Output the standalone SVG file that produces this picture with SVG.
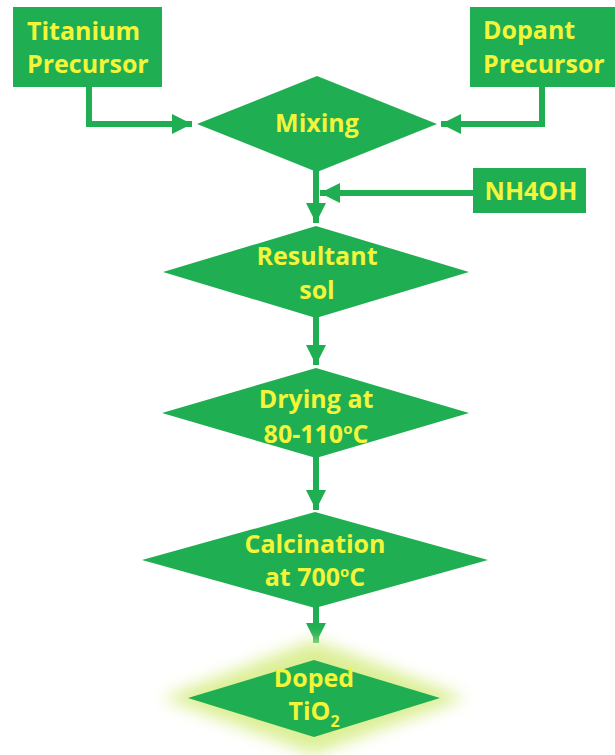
<svg xmlns="http://www.w3.org/2000/svg" width="615" height="755" viewBox="0 0 615 755">
<style>
.box{fill:#1fae52;}
.lbl{font-family:"Open Sans","Liberation Sans",sans-serif;font-weight:bold;font-size:25px;fill:#f2f53a;}
.c{text-anchor:middle;}
.conn{fill:none;stroke:#1fae52;stroke-width:6;}
</style>
<defs>
<marker id="ah" markerUnits="userSpaceOnUse" markerWidth="22" markerHeight="22" viewBox="0 0 22 22" refX="20" refY="11" orient="auto">
<path d="M0,1 L20,11 L0,21 Z" fill="#1fae52"/>
</marker>
<filter id="glow" x="-30%" y="-40%" width="160%" height="180%">
<feGaussianBlur stdDeviation="8"/>
</filter>
</defs>
<rect width="615" height="755" fill="#ffffff"/>
<g id="connectors">
<path class="conn" d="M89,87 V124 H192" marker-end="url(#ah)"/>
<path class="conn" d="M542,87 V124 H441" marker-end="url(#ah)"/>
<path class="conn" d="M473,193 H320" marker-end="url(#ah)"/>
<path class="conn" d="M316,170 V223" marker-end="url(#ah)"/>
<path class="conn" d="M316,316 V365" marker-end="url(#ah)"/>
<path class="conn" d="M316,456 V510" marker-end="url(#ah)"/>
<path class="conn" d="M316,606 V643" marker-end="url(#ah)"/>
</g>
<g id="titanium">
<rect class="box" x="13" y="7" width="149" height="80"/>
<text class="lbl" x="27" y="40">Titanium</text>
<text class="lbl" x="27" y="73">Precursor</text>
</g>
<g id="dopant">
<rect class="box" x="470" y="7" width="145" height="80"/>
<text class="lbl" x="483" y="39">Dopant</text>
<text class="lbl" x="483" y="73">Precursor</text>
</g>
<g id="mixing">
<polygon class="box" points="197,124 317,76 437,124 317,172"/>
<text class="lbl c" x="317" y="132">Mixing</text>
</g>
<g id="nh4oh">
<rect class="box" x="473" y="168" width="113" height="45"/>
<text class="lbl c" x="531" y="200">NH4OH</text>
</g>
<g id="resultant">
<polygon class="box" points="163,272 316,226 469,272 316,318"/>
<text class="lbl c" x="317" y="265">Resultant</text>
<text class="lbl c" x="317" y="299">sol</text>
</g>
<g id="drying">
<polygon class="box" points="162,413 316,368 469,413 316,458"/>
<text class="lbl c" x="316" y="408">Drying at</text>
<text class="lbl c" x="316" y="443">80-110<tspan font-size="15" dy="-9">o</tspan><tspan dy="9">C</tspan></text>
</g>
<g id="calcination">
<polygon class="box" points="142,560 315,512 488,560 315,608"/>
<text class="lbl c" x="315" y="553">Calcination</text>
<text class="lbl c" x="315" y="586">at 700<tspan font-size="15" dy="-9">o</tspan><tspan dy="9">C</tspan></text>
</g>
<g id="doped">
<polygon points="162,698 314,640 466,698 314,754" fill="#dbef95" filter="url(#glow)"/>
<polygon class="box" points="188,698 314,660 440,698 314,737"/>
<text class="lbl c" x="314" y="687">Doped</text>
<text class="lbl c" x="314" y="720">TiO<tspan font-size="16" dy="7">2</tspan></text>
</g>
</svg>
